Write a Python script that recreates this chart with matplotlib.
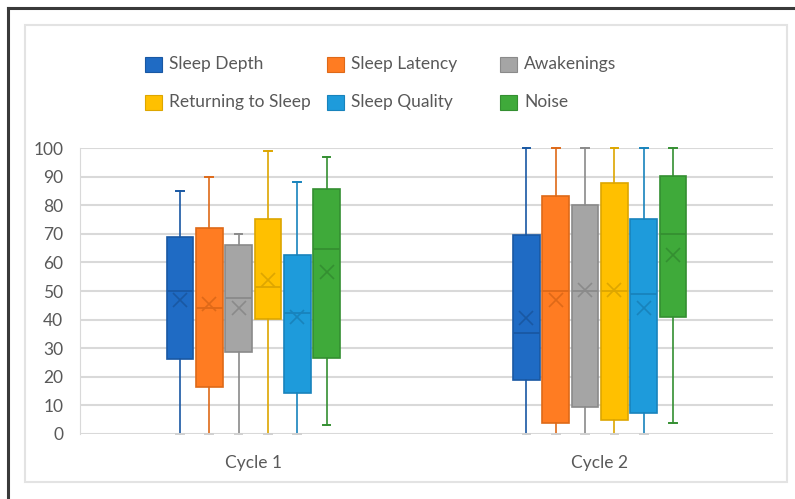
import matplotlib.pyplot as plt
from matplotlib.patches import Rectangle
from matplotlib.lines import Line2D

plt.rcParams["font.family"] = ["Lato", "DejaVu Sans"]

cycles = ["Cycle 1", "Cycle 2"]
measures = ["Sleep Depth", "Sleep Latency", "Awakenings",
            "Returning to Sleep", "Sleep Quality", "Noise"]

# per measure: [cycle 1, cycle 2]
whis_lo = {"Sleep Depth": [0, 0], "Sleep Latency": [0, 0], "Awakenings": [0, 0],
           "Returning to Sleep": [0, 0], "Sleep Quality": [0, 0], "Noise": [3, 4]}
q1 = {"Sleep Depth": [26.2, 19], "Sleep Latency": [16.3, 3.7], "Awakenings": [28.8, 9.5],
      "Returning to Sleep": [40.2, 5], "Sleep Quality": [14.2, 7.2], "Noise": [26.6, 41]}
med = {"Sleep Depth": [50, 35.2], "Sleep Latency": [44, 50], "Awakenings": [47.5, 50],
       "Returning to Sleep": [51.4, 50], "Sleep Quality": [42.4, 49], "Noise": [64.7, 70]}
q3 = {"Sleep Depth": [68.8, 69.6], "Sleep Latency": [72, 83.2], "Awakenings": [66, 80.2],
      "Returning to Sleep": [75.2, 87.6], "Sleep Quality": [62.5, 75.2], "Noise": [85.5, 90.2]}
whis_hi = {"Sleep Depth": [85, 100], "Sleep Latency": [90, 100], "Awakenings": [70, 100],
           "Returning to Sleep": [99, 100], "Sleep Quality": [88, 100], "Noise": [97, 100]}
means = {"Sleep Depth": [46.8, 40.7], "Sleep Latency": [45.5, 46.9], "Awakenings": [44.2, 50.3],
         "Returning to Sleep": [53.8, 50.5], "Sleep Quality": [41, 44], "Noise": [56.8, 62.6]}

fill_colors = ["#1F6BC4", "#FF7C22", "#A5A5A5", "#FFC000", "#1E9BDB", "#3FAA3A"]
edge_colors = ["#1958A3", "#DE6918", "#8A8A8A", "#DDA600", "#1883BC", "#348F31"]

W, H = 795, 499
fig = plt.figure(figsize=(W / 100, H / 100), dpi=100)

def fx(px):
    return px / W

def fy(py):
    return 1 - py / H

# outer border (top and left only visible) and inner light frame
fig.add_artist(Line2D([fx(8), 1], [fy(8), fy(8)], color="#3a3a3a", lw=2.2))
fig.add_artist(Line2D([fx(8), fx(8)], [fy(8), 0], color="#3a3a3a", lw=2.2))
fig.add_artist(Rectangle((fx(25), fy(482)), fx(787) - fx(25), fy(25) - fy(482),
                         fill=False, ec="#E3E3E3", lw=1.5))

ax = fig.add_axes([fx(80), fy(434), fx(773) - fx(80), fy(148) - fy(434)])

box_w = 0.077
step = 0.0846
for i, m in enumerate(measures):
    off = (i - 2.5) * step
    for c in range(len(cycles)):
        st = [{"whislo": whis_lo[m][c], "q1": q1[m][c], "med": med[m][c],
               "q3": q3[m][c], "whishi": whis_hi[m][c], "mean": means[m][c],
               "fliers": []}]
        parts = ax.bxp(st, positions=[c + off], widths=box_w, patch_artist=True,
                       showmeans=True, meanline=False, manage_ticks=False,
                       boxprops=dict(facecolor=fill_colors[i], edgecolor=edge_colors[i], lw=1.2),
                       medianprops=dict(color=edge_colors[i], lw=1.3),
                       whiskerprops=dict(color=edge_colors[i], lw=1.2),
                       capprops=dict(color=edge_colors[i], lw=1.4),
                       capwidths=0.022,
                       meanprops=dict(marker="x", markersize=10, markeredgecolor=edge_colors[i],
                                      markeredgewidth=1.2))
        # caps sitting on the zero line look pale in the original
        if whis_lo[m][c] == 0:
            parts["caps"][0].set_color("#D0D0D0")

ax.set_xlim(-0.5, 1.5)
ax.set_ylim(0, 100)
ax.set_yticks(range(0, 101, 10))
ax.set_xticks([])
ax.grid(axis="y", color="#D9D9D9", lw=1.5)
ax.set_axisbelow(True)
for s in ["top", "right", "bottom"]:
    ax.spines[s].set_visible(False)
ax.spines["left"].set_color("#D9D9D9")
ax.tick_params(axis="y", length=0, labelsize=12.5, labelcolor="#595959", pad=12)
for child in ax.get_children():
    if isinstance(child, Line2D):
        child.set_clip_on(False)

for c, name in enumerate(cycles):
    ax.text(c, -0.1, name, transform=ax.get_xaxis_transform(), ha="center", va="center",
            fontsize=12.5, color="#595959")

# legend drawn by hand to match the uneven column spacing
leg_x = [145, 327, 500]
leg_y = [64, 102]
for i, m in enumerate(measures):
    x0 = leg_x[i % 3]
    y0 = leg_y[i // 3]
    fig.add_artist(Rectangle((fx(x0), fy(y0 + 8)), fx(17), 15 / H,
                             fc=fill_colors[i], ec=edge_colors[i], lw=0.8))
    fig.text(fx(x0 + 24), fy(y0), m, ha="left", va="center", fontsize=12.5, color="#595959")

fig.savefig("out.png", dpi=100)
